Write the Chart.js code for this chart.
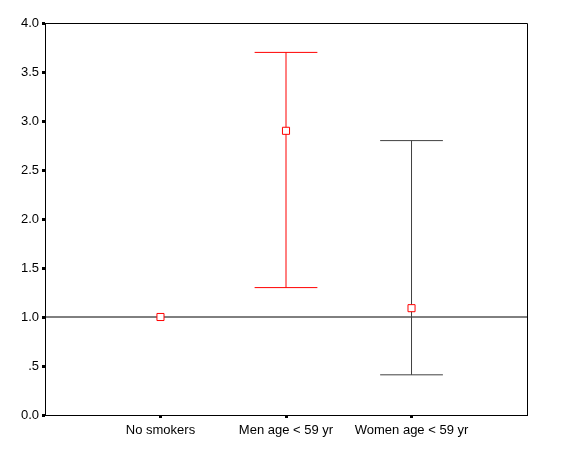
<!DOCTYPE html>
<html>
<head>
<meta charset="utf-8">
<script src="https://cdn.jsdelivr.net/npm/chart.js@4"></script>
<style>
    html, body { margin: 0; padding: 0; background: #fff; }
    #wrap { width: 565px; height: 452px; position: relative; }
</style>
</head>
<body>
<div id="wrap"><canvas id="ciChart"></canvas></div>
<script>
// odds ratios with 95% CI
const categories = ['No smokers', 'Men age < 59 yr', 'Women age < 59 yr'];
const estimates = [1.0, 2.9, 1.09];
const lowerCI = [null, 1.3, 0.41];
const upperCI = [null, 3.7, 2.8];
const barColors = ['#ff0000', '#ff0000', '#404040'];
const yTicks = [0, 0.5, 1.0, 1.5, 2.0, 2.5, 3.0, 3.5, 4.0];
const refValue = 1.0;

(function () {
    const xMin = -0.92, xMax = 2.92, capHalf = 0.25;
    const datasets = [];

    datasets.push({
        data: categories.map((c, i) => ({ x: i, y: estimates[i] })),
        showLine: false,
        pointStyle: 'rect',
        pointRadius: 5,
        pointBorderWidth: 1,
        pointBorderColor: '#ff0000',
        pointBackgroundColor: '#ffffff',
        order: 0
    });

    categories.forEach((c, i) => {
        if (lowerCI[i] == null) return;
        const line = { showLine: true, pointRadius: 0, borderWidth: 1, borderColor: barColors[i], order: 1 };
        datasets.push({ ...line, data: [{ x: i, y: lowerCI[i] }, { x: i, y: upperCI[i] }] });
        datasets.push({ ...line, data: [{ x: i - capHalf, y: upperCI[i] }, { x: i + capHalf, y: upperCI[i] }] });
        datasets.push({ ...line, data: [{ x: i - capHalf, y: lowerCI[i] }, { x: i + capHalf, y: lowerCI[i] }] });
    });

    datasets.push({
        data: [{ x: xMin, y: refValue }, { x: xMax, y: refValue }],
        showLine: true, pointRadius: 0, borderWidth: 1, borderColor: '#000000', order: 2
    });

    const frame = {
        id: 'frame',
        afterDraw(chart) {
            const { ctx, chartArea: a } = chart;
            ctx.save();
            ctx.strokeStyle = '#000';
            ctx.lineWidth = 1;
            ctx.beginPath();
            ctx.moveTo(Math.round(a.left) + 0.5, Math.round(a.top) + 0.5);
            ctx.lineTo(Math.round(a.right) + 0.5, Math.round(a.top) + 0.5);
            ctx.lineTo(Math.round(a.right) + 0.5, Math.round(a.bottom) + 0.5);
            ctx.stroke();
            ctx.restore();
        }
    };

    const font = { family: 'Arial, "Liberation Sans", sans-serif', size: 13 };

    new Chart(document.getElementById('ciChart').getContext('2d'), {
        type: 'scatter',
        data: { datasets: datasets },
        plugins: [frame],
        options: {
            responsive: true,
            maintainAspectRatio: false,
            animation: false,
            layout: { padding: { top: 23, right: 38, left: 0, bottom: 0 } },
            plugins: { legend: { display: false }, tooltip: { enabled: false } },
            scales: {
                x: {
                    type: 'linear',
                    min: xMin,
                    max: xMax,
                    afterBuildTicks: scale => { scale.ticks = categories.map((c, i) => ({ value: i })); },
                    afterFit: scale => { scale.height = 37; },
                    ticks: {
                        color: '#000',
                        font: font,
                        padding: 5,
                        maxRotation: 0,
                        autoSkip: false,
                        callback: v => categories[v]
                    },
                    grid: { drawOnChartArea: false, tickLength: 3, tickWidth: 3, tickColor: '#000' },
                    border: { display: true, color: '#000', width: 1 }
                },
                y: {
                    min: 0,
                    max: 4,
                    afterBuildTicks: scale => { scale.ticks = yTicks.map(v => ({ value: v })); },
                    afterFit: scale => { scale.width = 45; },
                    ticks: {
                        color: '#000',
                        font: font,
                        padding: 3,
                        callback: v => v.toFixed(1).replace(/^0\.(?!0)/, '.')
                    },
                    grid: { drawOnChartArea: false, tickLength: 3, tickWidth: 3, tickColor: '#000' },
                    border: { display: true, color: '#000', width: 1 }
                }
            }
        }
    });
})();
</script>
</body>
</html>
